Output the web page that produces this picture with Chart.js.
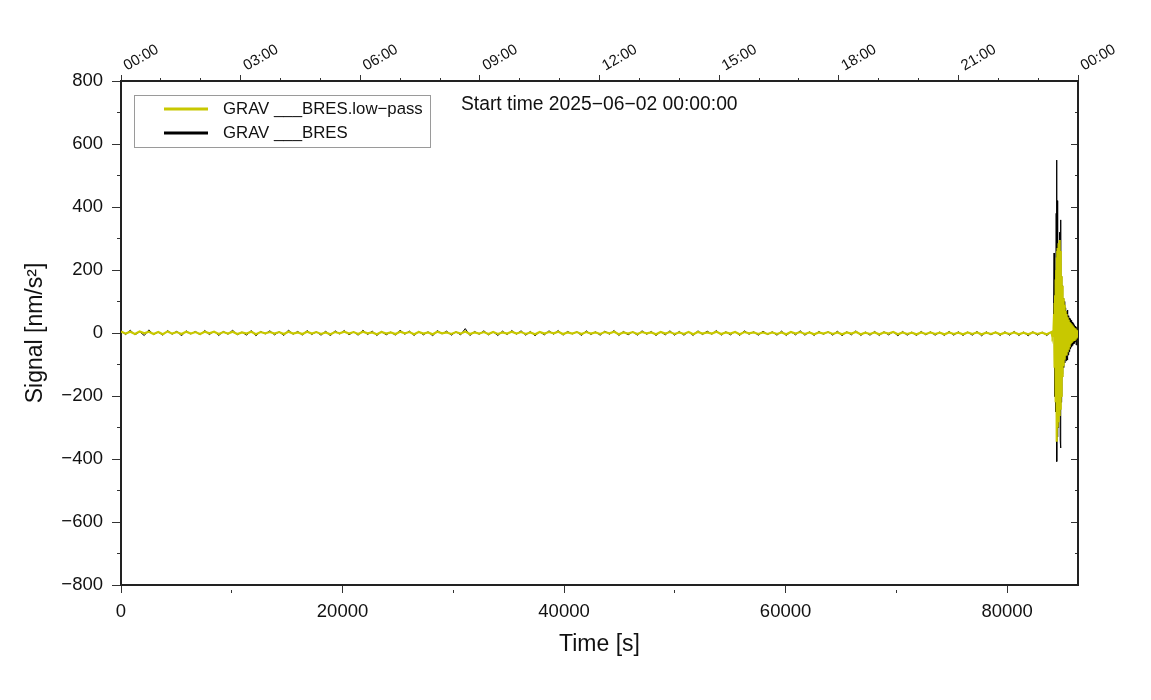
<!DOCTYPE html>
<html>
<head>
<meta charset="utf-8">
<script src="https://cdn.jsdelivr.net/npm/chart.js@4.4.1/dist/chart.umd.min.js"></script>
<style>
  html, body { margin: 0; padding: 0; background: #ffffff; }
  #wrap { width: 1151px; height: 700px; }
</style>
</head>
<body>
<div id="wrap"><canvas id="c" width="1151" height="700"></canvas></div>
<script>
// ---------------- data ----------------
const seriesNames = ["GRAV ___BRES.low\u2212pass", "GRAV ___BRES"];
const startTimeLabel = "Start time 2025\u221206\u221202 00:00:00";
const timeMin = 0;
const timeMax = 86400;

// quiet part: one sample every 420 s starting at 0 s
const quietStart = 0;
const quietStep = 420;
const rawQuiet = [
  7,-5,9,-6,4,-8,10,-5,3,-7,8,-4,6,-9,7,-3,5,-6,8,-5,
  6,-8,5,-4,9,-6,3,-7,8,-9,5,-3,7,-6,4,-8,9,-4,5,-7,
  8,-5,4,-7,6,-9,7,-3,8,-6,4,-7,9,-5,6,-8,5,-6,3,-7,
  9,-4,6,-8,5,-6,4,-9,8,-3,6,-7,4,-6,14,-8,5,-4,7,-6,
  4,-8,6,-5,8,-4,7,-7,5,-9,4,-6,7,-4,8,-7,5,-3,4,-8,
  7,-5,4,-7,6,-4,8,-8,5,-6,4,-7,7,-4,5,-8,4,-6,7,-7,
  5,-7,4,-8,7,-5,6,-4,8,-7,4,-6,5,-8,7,-4,4,-7,6,-5,
  4,-7,6,-8,4,-6,7,-7,4,-8,5,-4,4,-7,6,-9,4,-6,7,-8,
  3,-7,5,-8,4,-6,4,-9,5,-7,3,-8,5,-6,4,-7,3,-8,5,-7,
  4,-8,3,-7,5,-9,4,-6,3,-8,4,-7,5,-8,3,-9,4,-7,3,-8
];
const lowQuiet = [
  5,-2,4,-3,5,-1,4,-3,3,-4,5,-2,3,-3,4,-2,3,-3,4,-1,
  4,-3,3,-2,4,-3,2,-2,4,-4,3,-1,3,-2,3,-3,4,-2,2,-3,
  4,-2,3,-3,2,-4,3,-1,4,-2,3,-3,4,-1,2,-4,3,-2,2,-3,
  4,-1,3,-4,3,-2,2,-4,4,-1,2,-3,3,-2,5,-3,2,-2,3,-3,
  3,-3,2,-2,4,-2,3,-3,2,-4,3,-2,3,-1,4,-3,2,-2,3,-3,
  3,-2,2,-3,3,-1,4,-4,2,-2,3,-3,3,-1,2,-4,3,-2,3,-3,
  2,-3,3,-4,3,-2,2,-2,4,-3,2,-2,3,-4,3,-1,2,-3,2,-3,
  2,-3,2,-4,3,-2,3,-3,2,-4,2,-2,3,-3,2,-4,2,-2,3,-4,
  1,-3,2,-4,2,-2,3,-4,2,-3,1,-4,2,-3,2,-3,1,-4,2,-3,
  1,-4,2,-3,2,-4,1,-3,2,-4,1,-3,2,-4,1,-4,2,-3,1,-4
];

// event part: one sample every 24 s starting at 84000 s
const eventStart = 84000;
const eventStep = 24;
const rawEvent = [
  4,-5,3,-4,6,-3,5,-6,8,
  40,254,-202,150,-120,90,-160,200,-250,380,-300,
  549,-408,420,-330,300,-280,260,-300,280,-250,
  300,-200,320,-340,359,-365,250,-220,180,-200,
  150,-140,125,-130,110,-105,95,-110,100,-90,
  85,-95,80,-85,75,-88,70,-80,65,-75,
  73,-86,60,-70,55,-65,50,-60,48,-55,
  45,-50,42,-48,40,-45,38,-42,35,-40,
  33,-38,30,-35,28,-33,26,-30,25,-28,
  22,-26,20,-38,18,-24,15,-20,12,-15,5
];
const lowEvent = [
  3,-3,2,-4,4,-2,3,-4,5,
  15,60,-80,95,-110,120,-150,170,-220,200,-280,
  240,-345,260,-300,270,-280,280,-270,285,-260,
  290,-250,295,-240,260,-230,220,-200,180,-170,
  150,-140,130,-120,110,-105,100,-95,90,-85,
  80,-80,70,-72,65,-68,60,-62,55,-58,
  50,-55,46,-50,42,-46,38,-42,35,-40,
  32,-36,30,-34,28,-32,26,-30,24,-28,
  22,-26,20,-24,18,-22,16,-20,15,-18,
  14,-16,12,-14,10,-12,9,-10,7,-8,3
];

const yTicks = { min: -800, max: 800, major: 200, minor: 100 };
const xTicks = { major: 20000, minor: 10000 };
const topTicks = { major: 10800, minor: 3600 };

// ---------------- build ----------------
function toPoints(quiet, ev) {
  const a = quiet.map((v, i) => ({ x: quietStart + i * quietStep, y: v }));
  const b = ev.map((v, i) => ({ x: eventStart + i * eventStep, y: v }));
  return a.concat(b);
}
function tickValues(min, max, step) {
  const out = [];
  for (let v = min; v <= max + 1e-9; v += step) out.push({ value: v });
  return out;
}
const FONT = "'Liberation Sans', Arial, Helvetica, sans-serif";
const YELLOW = '#c8c800';
const INK = '#222222';
const minus = s => String(s).replace('-', '\u2212');

function tickDash(major) {
  return ctx => (ctx.tick && ctx.tick.value % major !== 0) ? [4, 40] : [];
}
function tickDashOff(major, len, minorLen) {
  return ctx => (ctx.tick && ctx.tick.value % major !== 0) ? -(len - minorLen) : 0;
}

const overlay = {
  id: 'overlay',
  afterDatasetsDraw(chart) {
    const ctx = chart.ctx;
    ctx.save();
    ctx.fillStyle = '#ffffff';
    ctx.fillRect(134.5, 95.5, 296, 52);
    ctx.strokeStyle = '#9a9a9a';
    ctx.lineWidth = 1;
    ctx.strokeRect(134.5, 95.5, 296, 52);
    const rows = [109, 133];
    chart.data.datasets.forEach((ds, i) => {
      ctx.strokeStyle = ds.borderColor;
      ctx.lineWidth = 3;
      ctx.beginPath();
      ctx.moveTo(164, rows[i]);
      ctx.lineTo(208, rows[i]);
      ctx.stroke();
      ctx.fillStyle = '#111';
      ctx.font = "16.8px " + FONT;
      ctx.textBaseline = 'middle';
      ctx.textAlign = 'left';
      ctx.fillText(ds.label, 223, rows[i] + 0.5);
    });
    ctx.fillStyle = '#111';
    ctx.font = "19.3px " + FONT;
    ctx.textBaseline = 'middle';
    ctx.fillText(startTimeLabel, 461, 105);
    ctx.restore();
  }
};

new Chart(document.getElementById('c'), {
  type: 'line',
  data: {
    datasets: [
      { label: seriesNames[0], data: toPoints(lowQuiet, lowEvent), borderColor: YELLOW, borderWidth: 2.2 },
      { label: seriesNames[1], data: toPoints(rawQuiet, rawEvent), borderColor: '#000000', borderWidth: 1 }
    ]
  },
  options: {
    responsive: false,
    animation: false,
    parsing: false,
    normalized: true,
    elements: { point: { radius: 0 }, line: { tension: 0 } },
    layout: { padding: { left: 18, right: 0, top: 0, bottom: 0 } },
    plugins: { legend: { display: false }, tooltip: { enabled: false } },
    scales: {
      x: {
        type: 'linear', position: 'bottom', min: timeMin, max: timeMax,
        afterBuildTicks: s => { s.ticks = tickValues(0, 80000, xTicks.minor); },
        afterFit: s => { s.height = 115; },
        border: { color: INK, width: 2 },
        grid: { drawOnChartArea: false, tickLength: 8, tickColor: '#333', tickWidth: 1,
                tickBorderDash: tickDash(xTicks.major), tickBorderDashOffset: tickDashOff(xTicks.major, 8, 4) },
        ticks: { autoSkip: false, maxRotation: 0, padding: 8,
                 color: '#111', font: { size: 18.5, family: FONT },
                 callback: v => (v % xTicks.major === 0 ? String(v) : '') },
        title: { display: true, text: 'Time [s]', color: '#111', font: { size: 23, family: FONT },
                 padding: { top: 42, bottom: 42 } }
      },
      xTop: {
        type: 'linear', position: 'top', min: timeMin, max: timeMax,
        afterBuildTicks: s => { s.ticks = tickValues(timeMin, timeMax, topTicks.minor); },
        afterFit: s => { s.height = 81; },
        border: { color: INK, width: 2 },
        grid: { drawOnChartArea: false, tickLength: 6, tickColor: '#333', tickWidth: 1,
                tickBorderDash: tickDash(topTicks.major), tickBorderDashOffset: tickDashOff(topTicks.major, 6, 3) },
        ticks: { autoSkip: false, minRotation: 30, maxRotation: 30, padding: 0, labelOffset: 13,
                 color: '#111', font: { size: 15, family: FONT },
                 callback: v => {
                   if (v % topTicks.major !== 0) return '';
                   const h = Math.round(v / 3600) % 24;
                   return String(h).padStart(2, '0') + ':00';
                 } }
      },
      y: {
        type: 'linear', position: 'left', min: yTicks.min, max: yTicks.max,
        afterBuildTicks: s => { s.ticks = tickValues(yTicks.min, yTicks.max, yTicks.minor); },
        afterFit: s => { s.width = 103; },
        border: { color: INK, width: 2 },
        grid: { drawOnChartArea: false, tickLength: 9, tickColor: '#333', tickWidth: 1,
                tickBorderDash: tickDash(yTicks.major), tickBorderDashOffset: tickDashOff(yTicks.major, 9, 4) },
        ticks: { autoSkip: false, padding: 9, color: '#111',
                 font: { size: 18.5, family: FONT },
                 callback: v => (v % yTicks.major === 0 ? minus(v) : '') },
        title: { display: true, text: 'Signal [nm/s\u00B2]', color: '#111', font: { size: 23, family: FONT },
                 padding: { top: 4, bottom: 4 } }
      },
      yRight: {
        type: 'linear', position: 'right', min: yTicks.min, max: yTicks.max,
        afterBuildTicks: s => { s.ticks = tickValues(yTicks.min, yTicks.max, yTicks.minor); },
        afterFit: s => { s.width = 73; },
        border: { color: INK, width: 2 },
        grid: { drawOnChartArea: false, tickLength: -7, tickColor: '#333', tickWidth: 1,
                tickBorderDash: tickDash(yTicks.major), tickBorderDashOffset: tickDashOff(yTicks.major, 7, 7) },
        ticks: { autoSkip: false, callback: () => '' }
      }
    }
  },
  plugins: [overlay]
});
</script>
</body>
</html>
